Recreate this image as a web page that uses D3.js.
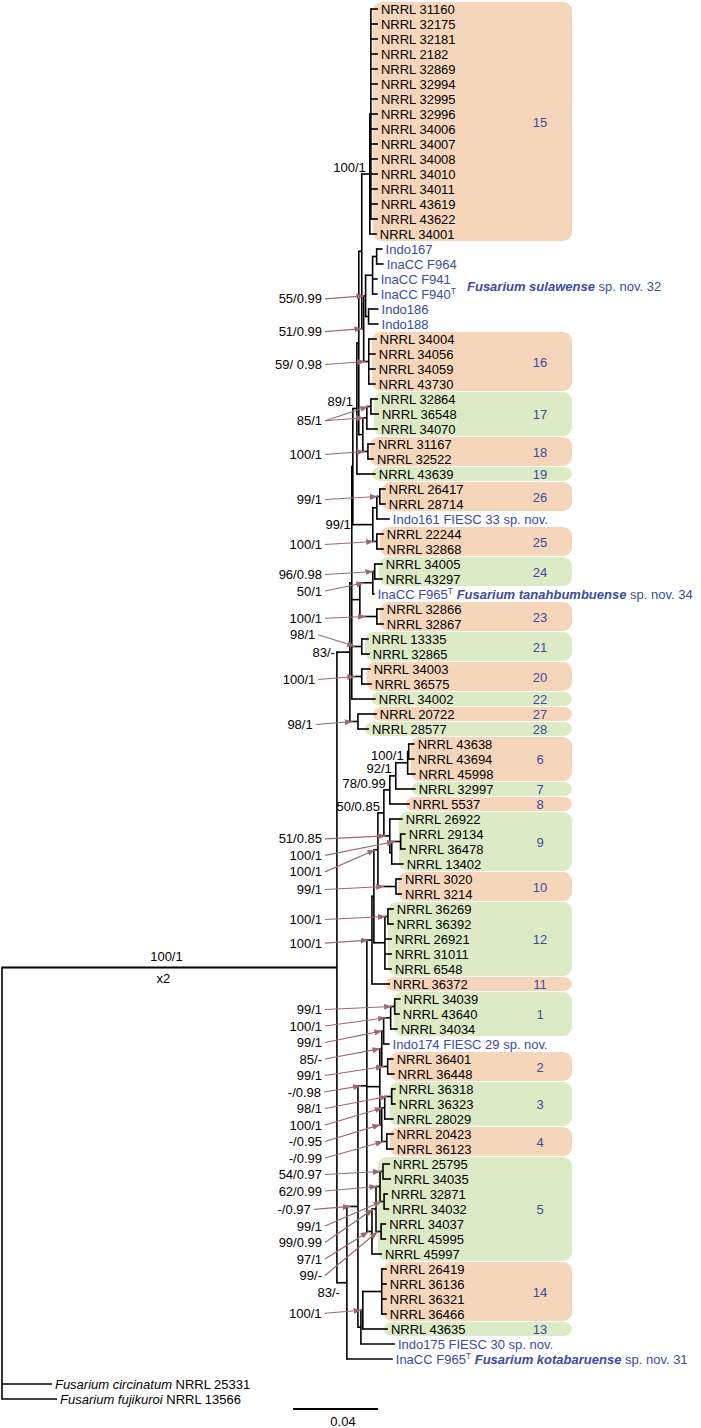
<!DOCTYPE html>
<html><head><meta charset="utf-8">
<script src="https://cdn.jsdelivr.net/npm/d3@7"></script>
<style>
body{margin:0;background:#fff;}
svg text{font-family:"Liberation Sans",Arial,sans-serif;font-size:13px;white-space:pre;}
</style></head><body>
<svg id="c" width="701" height="1428"></svg>
<script>
// ---------------- DATA ----------------
const clade15Strains = ["NRRL 31160","NRRL 32175","NRRL 32181","NRRL 2182","NRRL 32869","NRRL 32994","NRRL 32995","NRRL 32996","NRRL 34006","NRRL 34007","NRRL 34008","NRRL 34010","NRRL 34011","NRRL 43619","NRRL 43622"];

// [node, parent, branch length (substitutions/site)] in drawing order
const treeEdges = [
 ["root",null,0],
 ["IR","root",0.1576],
 ["A","IR",0.0061],
 ["M","A",0.0009],
 ["Big","M",0.0005],
 ["Q","Big",0.0019],
 ["N89","Q",0.0009],
 ["N15","N89",0.0014],
 ["c15","N15",0.0038],
 ["X15","c15",0.0005],
 ...clade15Strains.map(s => [s,"X15",0.0033]),
 ["NRRL 34001","c15",0.0033],
 ["N51","N15",0.0009],
 ["sul","N51",0.0009],
 ["S1","sul",0.0033],
 ["S1a","S1",0.0019],
 ["Indo167","S1a",0.0028],
 ["InaCC F964","S1a",0.0033],
 ["InaCC F941","S1",0.0024],
 ["InaCC F940","S1",0.0024],
 ["S2","sul",0.0014],
 ["Indo186","S2",0.0047],
 ["Indo188","S2",0.0047],
 ["c16","N51",0.0024],
 ["NRRL 34004","c16",0.0038],
 ["NRRL 34056","c16",0.0033],
 ["NRRL 34059","c16",0.0033],
 ["NRRL 43730","c16",0.0033],
 ["N1718","N89",0.0019],
 ["c17","N1718",0.0019],
 ["c17a","c17",0.0019],
 ["NRRL 32864","c17a",0.0033],
 ["NRRL 36548","c17a",0.0038],
 ["NRRL 34070","c17",0.0052],
 ["c18","N1718",0.0024],
 ["NRRL 31167","c18",0.0033],
 ["NRRL 32522","c18",0.0028],
 ["NRRL 43639","Q",0.0089],
 ["N99","Big",0.0094],
 ["N26","N99",0.0019],
 ["c26","N26",0.0014],
 ["NRRL 26417","c26",0.0028],
 ["NRRL 28714","c26",0.0028],
 ["Indo161","N26",0.0061],
 ["c25","N99",0.0019],
 ["NRRL 22244","c25",0.0033],
 ["NRRL 32868","c25",0.0033],
 ["E","M",0.0038],
 ["N24t","E",0.0061],
 ["c24","N24t",0.0009],
 ["NRRL 34005","c24",0.0038],
 ["NRRL 43297","c24",0.0038],
 ["F965a","N24t",0.0009],
 ["c23","E",0.0080],
 ["NRRL 32866","c23",0.0033],
 ["NRRL 32867","c23",0.0033],
 ["c21","M",0.0047],
 ["NRRL 13335","c21",0.0033],
 ["NRRL 32865","c21",0.0038],
 ["c20","M",0.0047],
 ["NRRL 34003","c20",0.0042],
 ["NRRL 36575","c20",0.0047],
 ["NRRL 34002","M",0.0113],
 ["L","A",0.0038],
 ["NRRL 20722","L",0.0089],
 ["NRRL 28577","L",0.0052],
 ["B","IR",0.0047],
 ["C","B",0.0052],
 ["V","C",0.0042],
 ["W","V",0.0024],
 ["H","W",0.0009],
 ["G610","H",0.0019],
 ["N50","G610",0.0028],
 ["N678","N50",0.0028],
 ["N67","N678",0.0028],
 ["c6","N67",0.0056],
 ["c6a","c6",0.0005],
 ["NRRL 43638","c6a",0.0028],
 ["NRRL 43694","c6a",0.0028],
 ["NRRL 45998","c6",0.0038],
 ["NRRL 32997","N67",0.0094],
 ["NRRL 5537","N678",0.0094],
 ["c9","N50",0.0028],
 ["NRRL 26922","c9",0.0061],
 ["c9b","c9",0.0009],
 ["c9a","c9b",0.0042],
 ["NRRL 29134","c9a",0.0024],
 ["NRRL 36478","c9a",0.0024],
 ["NRRL 13402","c9b",0.0056],
 ["c10","G610",0.0085],
 ["NRRL 3020","c10",0.0028],
 ["NRRL 3214","c10",0.0028],
 ["c12","H",0.0052],
 ["c12a","c12",0.0014],
 ["NRRL 36269","c12a",0.0028],
 ["NRRL 36392","c12a",0.0028],
 ["NRRL 26921","c12",0.0033],
 ["NRRL 31011","c12",0.0033],
 ["NRRL 6548","c12",0.0033],
 ["NRRL 36372","W",0.0085],
 ["D14","V",0.0061],
 ["N12","D14",0.0009],
 ["N1174","N12",0.0009],
 ["c1","N1174",0.0033],
 ["c1a","c1",0.0019],
 ["NRRL 34039","c1a",0.0028],
 ["NRRL 43640","c1a",0.0024],
 ["NRRL 34034","c1",0.0033],
 ["Indo174","N1174",0.0028],
 ["c2","N12",0.0028],
 ["NRRL 36401","c2",0.0028],
 ["NRRL 36448","c2",0.0033],
 ["N34","D14",0.0009],
 ["c3","N34",0.0014],
 ["c3a","c3",0.0033],
 ["NRRL 36318","c3a",0.0019],
 ["NRRL 36323","c3a",0.0019],
 ["NRRL 28029","c3",0.0042],
 ["c4","N34",0.0024],
 ["NRRL 20423","c4",0.0033],
 ["NRRL 36123","c4",0.0033],
 ["G5","V",0.0024],
 ["G5a","G5",0.0019],
 ["c5b","G5a",0.0019],
 ["c5a","c5b",0.0014],
 ["NRRL 25795","c5a",0.0033],
 ["NRRL 34035","c5a",0.0038],
 ["c5c","c5b",0.0019],
 ["NRRL 32871","c5c",0.0019],
 ["NRRL 34032","c5c",0.0024],
 ["c5d","G5a",0.0024],
 ["NRRL 34037","c5d",0.0024],
 ["NRRL 45995","c5d",0.0024],
 ["NRRL 45997","G5",0.0047],
 ["N175","C",0.0014],
 ["N1314","N175",0.0009],
 ["c14","N1314",0.0089],
 ["NRRL 26419","c14",0.0024],
 ["NRRL 36136","c14",0.0024],
 ["NRRL 36321","c14",0.0024],
 ["NRRL 36466","c14",0.0024],
 ["NRRL 43635","N1314",0.0118],
 ["Indo175","N175",0.0160],
 ["F965b","B",0.0216],
 ["circinatum","root",0.0235],
 ["fujikuroi","root",0.0259]
];

const outgroupIds = ["circinatum","fujikuroi"];

// leaf display text (^T superscript, *bold italic*, _italic_)
const labelIds   = ["InaCC F940","Indo161","F965a","Indo174","Indo175","F965b","circinatum","fujikuroi"];
const labelTexts = ["InaCC F940^T","Indo161 FIESC 33 sp. nov.","InaCC F965^T *Fusarium tanahbumbuense* sp. nov. 34",
  "Indo174 FIESC 29 sp. nov.","Indo175 FIESC 30 sp. nov.","InaCC F965^T *Fusarium kotabaruense* sp. nov. 31",
  "_Fusarium circinatum_ NRRL 25331","_Fusarium fujikuroi_ NRRL 13566"];

const novelIds = ["Indo167","InaCC F964","InaCC F941","InaCC F940","Indo186","Indo188","Indo161","F965a","Indo174","Indo175","F965b"];

const groupNoteText = "*Fusarium sulawense* sp. nov. 32";
const groupNoteFirst = "Indo167", groupNoteLast = "Indo188";

const cladeNumbers = ["15","16","17","18","19","26","25","24","23","21","20","22","27","28","6","7","8","9","10","12","11","1","2","3","4","5","14","13"];
const cladeFirst = ["NRRL 31160","NRRL 34004","NRRL 32864","NRRL 31167","NRRL 43639","NRRL 26417","NRRL 22244","NRRL 34005","NRRL 32866","NRRL 13335","NRRL 34003","NRRL 34002","NRRL 20722","NRRL 28577","NRRL 43638","NRRL 32997","NRRL 5537","NRRL 26922","NRRL 3020","NRRL 36269","NRRL 36372","NRRL 34039","NRRL 36401","NRRL 36318","NRRL 20423","NRRL 25795","NRRL 26419","NRRL 43635"];
const cladeLast  = ["NRRL 34001","NRRL 43730","NRRL 34070","NRRL 32522","NRRL 43639","NRRL 28714","NRRL 32868","NRRL 43297","NRRL 32867","NRRL 32865","NRRL 36575","NRRL 34002","NRRL 20722","NRRL 28577","NRRL 45998","NRRL 32997","NRRL 5537","NRRL 13402","NRRL 3214","NRRL 6548","NRRL 36372","NRRL 34034","NRRL 36448","NRRL 28029","NRRL 36123","NRRL 45997","NRRL 36466","NRRL 43635"];
const cladeShade = ["o","o","g","o","g","o","o","g","o","g","o","g","o","g","o","g","o","g","o","g","o","g","o","g","o","g","o","g"];

// support values (ML bootstrap / posterior), in reading order
const supportNodes = ["c15","sul","N51","c16","Q",["c17a","c17"],"c18","c26","N99","c25","c24","N24t","c23","c21","A","c20","L",
  "c6","N67","N678","N50","c9","c9a","G610","c10","c12a","W","IR","IR",
  "c1a","c1","N1174","N12","c2","V","c3a","c3","N34","c4","c5a","c5b","C","c5c","G5a","G5","c5d","B","N1314"];
const supportTexts = ["100/1","55/0.99","51/0.99","59/ 0.98","89/1","85/1","100/1","99/1","99/1","100/1","96/0.98","50/1","100/1","98/1","83/-","100/1","98/1",
  "100/1","92/1","78/0.99","50/0.85","51/0.85","100/1","100/1","99/1","100/1","100/1","100/1","x2",
  "99/1","100/1","99/1","85/-","99/1","-/0.98","98/1","100/1","-/0.95","-/0.99","54/0.97","62/0.99","-/0.97","99/1","99/0.99","97/1","99/-","83/-","100/1"];
const supportModes = ["above","arrow","arrow","arrow","above","arrow","arrow","arrow","base","arrow","arrow","arrow","arrow","arrow","base","arrow","arrow",
  "above","above","above","above","arrow","arrow","arrow","arrow","arrow","arrow","midAbove","midBelow",
  "arrow","arrow","arrow","arrow","arrow","arrow","arrow","arrow","arrow","arrow","arrow","arrow","arrow","arrow","arrow","arrow","arrow","below","arrow"];

const scaleBarValue = 0.04;

// ---------------- LAYOUT ----------------
const svg = d3.select("#c");
const colors = {o:"#f5d6ba", g:"#dcebc5", blue:"#3c4c9e", arrow:"#9b6a70", line:"#000"};

const root = d3.stratify().id(d => d[0]).parentId(d => d[1])(treeEdges);
root.eachBefore(n => { n.dist = n.parent ? n.parent.dist + n.data[2] : 0; });

const x = d3.scaleLinear().domain([0, scaleBarValue]).range([2, 87]);
const leaves = root.leaves();
const nIn = leaves.filter(l => !outgroupIds.includes(l.id)).length;
const y = d3.scaleLinear().domain([0, nIn - 1]).range([9, 1359]);
leaves.forEach((l, i) => { l.py = y(i) + (outgroupIds.includes(l.id) ? 10 : 0); });
root.eachAfter(n => {
  n.px = x(n.dist);
  if (n.children) n.py = (n.children[0].py + n.children[n.children.length - 1].py) / 2;
});
const byId = new Map(root.descendants().map(n => [n.id, n]));
const labelGap = 3;
const labelMap = new Map(labelIds.map((id, i) => [id, labelTexts[i]]));

function rich(sel, str) {
  const parts = str.split(/(\^T|\*[^*]+\*|_[^_]+_)/).filter(s => s.length);
  let sup = false;
  parts.forEach(p => {
    const t = sel.append("tspan");
    if (p === "^T") { t.text("T").attr("font-size", 8.5).attr("dy", -5); sup = true; return; }
    if (sup) { t.attr("dy", 5); sup = false; }
    if (p[0] === "*") t.text(p.slice(1, -1)).attr("font-weight", "bold").attr("font-style", "italic");
    else if (p[0] === "_") t.text(p.slice(1, -1)).attr("font-style", "italic");
    else t.text(p);
  });
}

// ---- clade boxes
const gBox = svg.append("g");
const leafIndex = new Map(leaves.map((l, i) => [l.id, i]));
cladeNumbers.forEach((num, i) => {
  const a = leafIndex.get(cladeFirst[i]), b = leafIndex.get(cladeLast[i]);
  const ls = leaves.slice(a, b + 1);
  const left = d3.min(ls, l => l.px + labelGap) - 7;
  const top = ls[0].py - 7, bottom = ls[ls.length - 1].py + 7;
  gBox.append("rect").attr("x", left).attr("y", top).attr("width", 572 - left).attr("height", bottom - top)
    .attr("rx", 9).attr("fill", colors[cladeShade[i]]);
  gBox.append("text").attr("x", 540).attr("y", (top + bottom) / 2 + 5).attr("text-anchor", "middle")
    .attr("font-size", 14).attr("fill", colors.blue).text(num);
});

// ---- tree branches
const gTree = svg.append("g").attr("stroke", colors.line).attr("fill", "none");
root.descendants().forEach(n => {
  if (n.parent) gTree.append("path").attr("d", `M${n.parent.px},${n.py}H${n.px}`)
    .attr("stroke-width", n.id === "IR" ? 2 : 1.6);
  if (n.children) gTree.append("path")
    .attr("d", `M${n.px},${n.children[0].py}V${n.children[n.children.length - 1].py}`)
    .attr("stroke-width", 1.6).attr("stroke-linecap", "square");
});

// ---- leaf labels
const gLab = svg.append("g");
leaves.forEach(l => {
  const t = gLab.append("text").attr("x", l.px + labelGap).attr("y", l.py + 4.6)
    .attr("fill", novelIds.includes(l.id) ? colors.blue : "#000");
  rich(t, labelMap.get(l.id) || l.id);
});
{
  const a = byId.get(groupNoteFirst), b = byId.get(groupNoteLast);
  const t = gLab.append("text").attr("x", 467).attr("y", (a.py + b.py) / 2 + 4.6).attr("fill", colors.blue);
  rich(t, groupNoteText);
}

// ---- support values
const defs = svg.append("defs");
defs.append("marker").attr("id", "ah").attr("viewBox", "0 0 8 6").attr("refX", 8).attr("refY", 3)
  .attr("markerWidth", 8).attr("markerHeight", 6).attr("markerUnits", "userSpaceOnUse").attr("orient", "auto")
  .append("path").attr("d", "M0,0L8,3L0,6Z").attr("fill", colors.arrow);

const gSup = svg.append("g");
const supports = supportNodes.map((ids, i) => ({
  nodes: [].concat(ids).map(id => byId.get(id)), text: supportTexts[i], mode: supportModes[i]
}));
const obstacles = [];
supports.filter(s => s.mode !== "arrow").forEach(s => {
  const n = s.nodes[0];
  let tx, ty, anchor = "end";
  if (s.mode === "above") { tx = n.px - 4; ty = n.py - 7; }
  else if (s.mode === "base") { tx = n.parent.px - 2; ty = n.py; }
  else if (s.mode === "below") { tx = n.px - 7; ty = n.py + 10; }
  else if (s.mode === "midAbove") { tx = (n.parent.px + n.px) / 2 - 3; ty = n.py - 11; anchor = "middle"; }
  else if (s.mode === "midBelow") { tx = (n.parent.px + n.px) / 2 - 6; ty = n.py + 11; anchor = "middle"; }
  const t = gSup.append("text").attr("x", tx).attr("y", ty + 4.6).attr("text-anchor", anchor).text(s.text);
  obstacles.push(t.node().getBBox());
});

function hits(x1, y1, x2, y2, b) {
  for (let k = 0; k <= 60; k++) {
    const t = k / 60, px = x1 + (x2 - x1) * t, py = y1 + (y2 - y1) * t;
    if (px >= b.x - 1 && px <= b.x + b.width + 1 && py >= b.y - 1 && py <= b.y + b.height + 1) return true;
  }
  return false;
}
const gap = 16.5;
const placed = [];
supports.filter(s => s.mode === "arrow").forEach(s => {
  s.tips = s.nodes.map(n => ({ x: n.parent.px + 0.35 * (n.px - n.parent.px), y: n.py }));
  s.right = Math.min(d3.min(s.tips, t => t.x) - 40, 322);
  const prev = placed.length ? placed[placed.length - 1].ly : -Infinity;
  let yy = Math.max(d3.max(s.tips, t => t.y) + 3, prev + gap);
  for (let iter = 0; iter < 3; iter++) {
    const b = obstacles.find(b => s.tips.some(t => hits(s.right + 3, yy, t.x, t.y, b)));
    if (!b) break;
    yy = b.y - 10;
  }
  s.ly = yy;
  placed.push(s);
  for (let j = placed.length - 2; j >= 0; j--) {
    const lim = placed[j + 1].ly - gap;
    if (placed[j].ly > lim) placed[j].ly = lim; else break;
  }
});
placed.forEach(s => {
  gSup.append("text").attr("x", s.right).attr("y", s.ly + 4.6).attr("text-anchor", "end").text(s.text);
  s.tips.forEach(t => {
    gSup.append("line").attr("x1", s.right + 3).attr("y1", s.ly).attr("x2", t.x).attr("y2", t.y)
      .attr("stroke", colors.arrow).attr("stroke-width", 1.2).attr("marker-end", "url(#ah)");
  });
});

// ---- scale bar
const sbX = 293, sbY = 1409;
svg.append("line").attr("x1", sbX).attr("x2", sbX + x(scaleBarValue) - x(0)).attr("y1", sbY).attr("y2", sbY)
  .attr("stroke", "#000").attr("stroke-width", 2);
svg.append("text").attr("x", sbX + 50).attr("y", sbY + 17).attr("text-anchor", "middle").text(String(scaleBarValue));
</script>
</body></html>
